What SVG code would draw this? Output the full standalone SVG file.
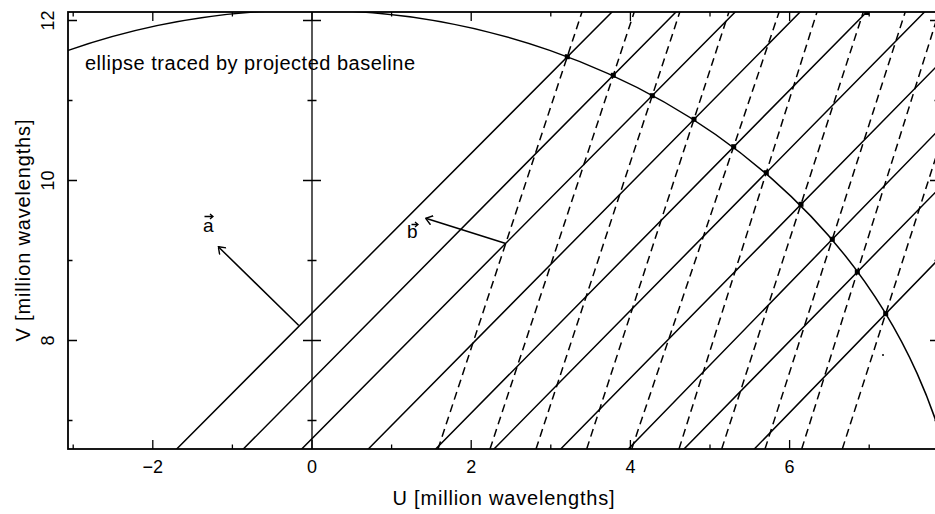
<svg xmlns="http://www.w3.org/2000/svg" width="935" height="514" viewBox="0 0 935 514">
<style>
.ln{fill:none;stroke:#000;stroke-width:1.5;stroke-linecap:round}
.ds{fill:none;stroke:#000;stroke-width:1.5;stroke-dasharray:8 5}
.tk{fill:none;stroke:#000;stroke-width:1.3}
.fr{fill:none;stroke:#000;stroke-width:1.8}
.dot{fill:#000}
text{font-family:"Liberation Sans",Arial,sans-serif;fill:#000}
.num{font-size:18px;text-anchor:middle}
.lab{font-size:20px}
.vec{font-size:19px}
</style>
<defs>
<clipPath id="plot"><rect x="68" y="12" width="871" height="437"/></clipPath>
<marker id="head" viewBox="0 0 10 10" refX="10" refY="5" markerWidth="10" markerHeight="10" markerUnits="userSpaceOnUse" orient="auto"><path d="M3.5,0.3 L10,5 L3.5,9.7" fill="none" stroke="#000" stroke-width="1.4"/></marker>
</defs>
<rect width="935" height="514" fill="#fff"/>
<g id="axes">
<rect class="fr" x="68" y="12" width="871" height="437"/>
<path class="tk" d="M73.2,449v-4.5M152.8,449v-9M232.4,449v-4.5M312,449v-9M391.6,449v-4.5M471.2,449v-9M550.8,449v-4.5M630.4,449v-9M710,449v-4.5M789.6,449v-9M869.2,449v-4.5"/>
<path class="tk" d="M73.2,12v4.5M152.8,12v9M232.4,12v4.5M312,12v9M391.6,12v4.5M471.2,12v9M550.8,12v4.5M630.4,12v9M710,12v4.5M789.6,12v9M869.2,12v4.5"/>
<path class="tk" d="M68,20.5h9M68,100.5h4.5M68,180.5h9M68,260.5h4.5M68,340.5h9M68,420.5h4.5"/>
<path class="tk" d="M939,20.5h-9M939,100.5h-4.5M939,180.5h-9M939,260.5h-4.5M939,340.5h-9M939,420.5h-4.5"/>
<path class="tk" d="M312,12V449M303,20.5h18M307.5,100.5h9M303,180.5h18M307.5,260.5h9M303,340.5h18M307.5,420.5h9"/>
<text class="num" x="152.8" y="473">−2</text>
<text class="num" x="312" y="473">0</text>
<text class="num" x="471.2" y="473">2</text>
<text class="num" x="630.4" y="473">4</text>
<text class="num" x="789.6" y="473">6</text>
<text class="num" transform="translate(53.5,20.5) rotate(-90)">12</text>
<text class="num" transform="translate(53.5,180.5) rotate(-90)">10</text>
<text class="num" transform="translate(53.5,340.5) rotate(-90)">8</text>
<text class="lab" x="503.5" y="505" text-anchor="middle" textLength="222">U [million wavelengths]</text>
<text class="lab" transform="translate(30,230.5) rotate(-90)" text-anchor="middle" textLength="222">V [million wavelengths]</text>
</g>
<g id="ellipse">
<ellipse class="ln" cx="309" cy="585" rx="654" ry="575" clip-path="url(#plot)"/>
<text class="lab" x="85" y="70" textLength="330">ellipse traced by projected baseline</text>
</g>
<g id="connectors" clip-path="url(#plot)">
<path class="ln" d="M176.7,449L612,12M243.3,449L676,12M301.7,449L735.2,12M368.3,449L800.1,12M435.7,449L866.7,12M494,449L924.5,12M560.7,449L940,62.9M628.3,449L940,128.6M684,449L940,187.6M754.3,449L940,257.7"/>
<path class="ds" d="M438,449L582,12M490,449L634.2,12M536,449L679.8,12M586.7,449L728.9,12M631.7,449L779.1,12M679,449L817,12M721.7,449L863.3,12M765,449L905.2,12M801.7,449L939,12M842.3,449L940,144.4"/>
</g>
<g id="points">
<rect class="dot" x="564.8" y="54.2" width="5" height="5"/>
<rect class="dot" x="610.8" y="72.8" width="5" height="5"/>
<rect class="dot" x="649.8" y="93.2" width="5" height="5"/>
<rect class="dot" x="691.5" y="116.8" width="5" height="5"/>
<rect class="dot" x="731.2" y="144.2" width="5" height="5"/>
<rect class="dot" x="763.8" y="170.2" width="5" height="5"/>
<rect class="dot" x="798.5" y="201.8" width="5" height="5"/>
<rect class="dot" x="829.8" y="236.8" width="5" height="5"/>
<rect class="dot" x="854.8" y="269.5" width="5" height="5"/>
<rect class="dot" x="883.2" y="311.2" width="5" height="5"/>
<rect class="dot" x="864.5" y="12" width="4.5" height="3"/>
<circle class="dot" cx="883" cy="355" r="1"/>
</g>
<g id="vector-a">
<line class="ln" x1="298.3" y1="325" x2="218.3" y2="246.7" marker-end="url(#head)"/>
<text class="vec" x="203" y="232">a</text>
<path class="tk" d="M204.5,216.5H213M210,214L213,216.5L210,219" stroke-width="1.1"/>
</g>
<g id="vector-b">
<line class="ln" x1="505" y1="243.3" x2="425.7" y2="218.3" marker-end="url(#head)"/>
<text class="vec" x="407" y="238">b</text>
<path class="tk" d="M411.5,224.5H418M415,222L418,224.5L415,227" stroke-width="1.1"/>
</g>
</svg>
